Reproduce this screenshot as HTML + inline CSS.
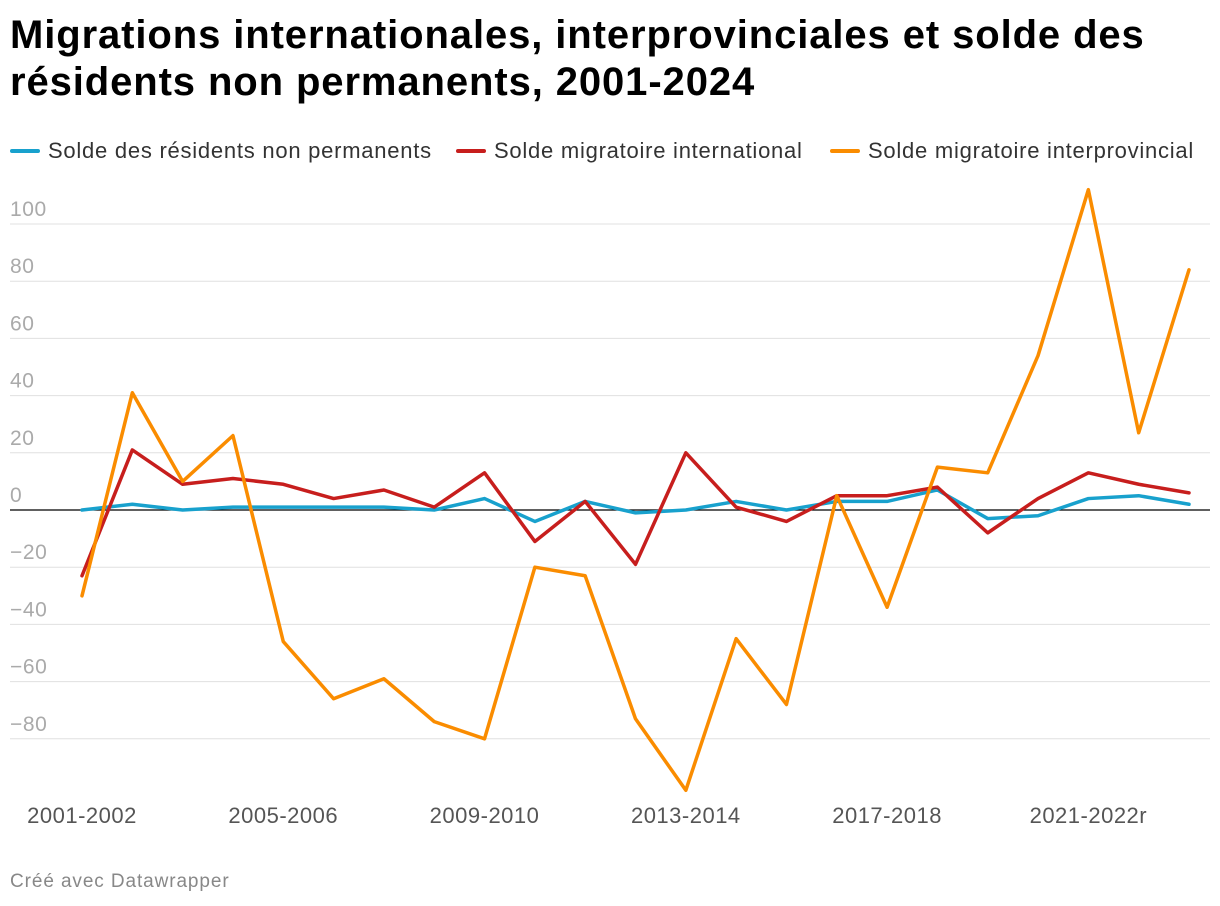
<!DOCTYPE html>
<html><head><meta charset="utf-8">
<style>
body{margin:0;background:#fff;width:1220px;height:906px;overflow:hidden;font-family:"Liberation Sans",Roboto,sans-serif;}
h1{position:absolute;left:10px;top:12px;margin:0;font-size:40px;line-height:47px;font-weight:bold;color:#000;letter-spacing:0.9px;white-space:nowrap}
.legend{position:absolute;top:138px;left:10px;font-size:22px;color:#333;white-space:nowrap;letter-spacing:0.75px}
.li{position:absolute;display:flex;align-items:center;}
.sw{width:30px;height:4px;border-radius:2px;margin-right:8px}
.foot{position:absolute;left:10px;top:871px;font-size:19px;color:#888;letter-spacing:0.9px}
svg{position:absolute;left:0;top:0}
</style></head><body>
<h1>Migrations internationales, interprovinciales et solde des<br>résidents non permanents, 2001-2024</h1>
<div class="legend">
 <div class="li" style="left:0"><span class="sw" style="background:#18a1cd"></span>Solde des résidents non permanents</div>
 <div class="li" style="left:446px"><span class="sw" style="background:#c71e1d"></span>Solde migratoire international</div>
 <div class="li" style="left:820px"><span class="sw" style="background:#fa8c00"></span>Solde migratoire interprovincial</div>
</div>
<svg id="chart" width="1220" height="906"></svg>
<div class="foot">Créé avec Datawrapper</div>
<script>
const categories=["2001-2002","2002-2003","2003-2004","2004-2005","2005-2006","2006-2007","2007-2008","2008-2009","2009-2010","2010-2011","2011-2012","2012-2013","2013-2014","2014-2015","2015-2016","2016-2017","2017-2018","2018-2019","2019-2020","2020-2021","2021-2022r","2022-2023","2023-2024"];
const nonPermanent=[0,2,0,1,1,1,1,0,4,-4,3,-1,0,3,0,3,3,7,-3,-2,4,5,2];
const international=[-23,21,9,11,9,4,7,1,13,-11,3,-19,20,1,-4,5,5,8,-8,4,13,9,6];
const interprovincial=[-30,41,10,26,-46,-66,-59,-74,-80,-20,-23,-73,-98,-45,-68,5,-34,15,13,54,112,27,84];
const yTicks=[100,80,60,40,20,0,-20,-40,-60,-80];
const tickCats=["2001-2002","2005-2006","2009-2010","2013-2014","2017-2018","2021-2022r"];
const NS="http://www.w3.org/2000/svg";
const svg=document.getElementById('chart');
const y=v=>510-v*2.86;
const x=i=>82+i*(1189-82)/(categories.length-1);
function mk(t,a){const e=document.createElementNS(NS,t);for(const k in a)e.setAttribute(k,a[k]);svg.appendChild(e);return e;}
yTicks.forEach(v=>{
 const l=mk('line',{x1:10,x2:1210,y1:y(v),y2:y(v),stroke:v===0?'#000':'#e0e0e0','stroke-width':v===0?1.3:1});
 
 
 const t=mk('text',{x:10,y:y(v)-8,fill:'#aaa','font-size':21,'letter-spacing':0.6,'font-family':'Liberation Sans, sans-serif'});
 t.textContent=v<0?'−'+(-v):String(v);
 
 
});
tickCats.forEach(c=>{
 const i=categories.indexOf(c);
 const t=mk('text',{x:x(i),y:823,fill:'#555','font-size':22,'letter-spacing':0.5,'text-anchor':'middle','font-family':'Liberation Sans, sans-serif'});
 t.textContent=c;
 
 
});
[[nonPermanent,'#18a1cd','line-nonpermanent'],[international,'#c71e1d','line-international'],[interprovincial,'#fa8c00','line-interprovincial']].forEach(([d,c,n])=>{
 const p=mk('polyline',{points:d.map((v,i)=>x(i)+','+y(v)).join(' '),fill:'none',stroke:c,'stroke-width':3.5,'stroke-linejoin':'round','stroke-linecap':'round'});
 
 
});
</script>
</body></html>
